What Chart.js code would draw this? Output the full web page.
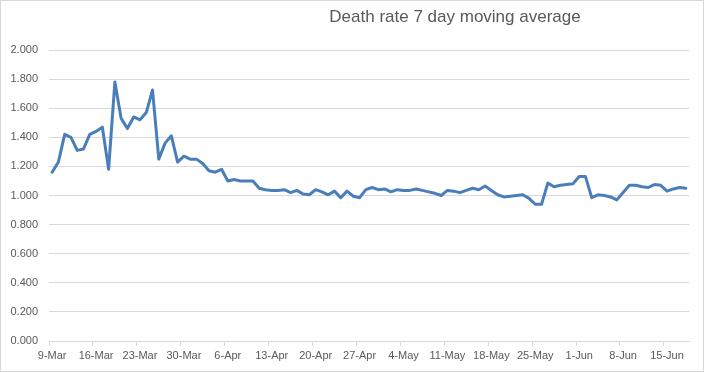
<!DOCTYPE html>
<html>
<head>
<meta charset="utf-8">
<script src="https://cdn.jsdelivr.net/npm/chart.js@4.4.0/dist/chart.umd.min.js"></script>
<style>
    html, body { margin: 0; padding: 0; background: #fff; }
    .chart-container { width: 704px; height: 372px; position: relative; }
</style>
</head>
<body>
<div class="chart-container">
    <canvas id="deathChart"></canvas>
</div>

<script>
    // Daily categories, 9-Mar to 18-Jun
    const months = ['Mar', 'Apr', 'May', 'Jun'];
    const monthDays = [31, 30, 31, 30];
    const days = [];
    let m = 0, d = 9;
    while (!(m === 3 && d > 18)) {
        days.push(d + '-' + months[m]);
        d++;
        if (d > monthDays[m]) { d = 1; m++; }
    }

    // Labels shown on the x axis (weekly)
    const tickLabels = ['9-Mar', '16-Mar', '23-Mar', '30-Mar', '6-Apr', '13-Apr', '20-Apr', '27-Apr',
        '4-May', '11-May', '18-May', '25-May', '1-Jun', '8-Jun', '15-Jun'];

    // 7 day moving average of the death rate
    const deathRate = [
        1.16, 1.23, 1.42, 1.40, 1.31, 1.32, 1.42, 1.44, 1.47, 1.18,
        1.78, 1.53, 1.46, 1.54, 1.52, 1.57, 1.725, 1.25, 1.36, 1.41,
        1.23, 1.27, 1.25, 1.25, 1.22, 1.17, 1.16, 1.18, 1.10, 1.11,
        1.10, 1.10, 1.10, 1.05, 1.04, 1.035, 1.035, 1.04, 1.02, 1.035,
        1.01, 1.005, 1.04, 1.025, 1.005, 1.03, 0.985, 1.03, 0.995, 0.985,
        1.04, 1.055, 1.04, 1.045, 1.025, 1.04, 1.035, 1.035, 1.045, 1.035,
        1.025, 1.015, 1.00, 1.035, 1.03, 1.02, 1.035, 1.05, 1.04, 1.065,
        1.035, 1.005, 0.99, 0.995, 1.00, 1.005, 0.98, 0.94, 0.94, 1.085,
        1.06, 1.07, 1.075, 1.08, 1.13, 1.13, 0.985, 1.005, 1.00, 0.99,
        0.97, 1.02, 1.07, 1.07, 1.06, 1.055, 1.075, 1.07, 1.03, 1.045,
        1.055, 1.05
    ];

    const titleText = 'Death rate 7 day moving average';

    // Title sits off-centre and the chart has a thin frame, as in the Excel original
    const framePlugin = {
        id: 'frame',
        afterDraw(chart) {
            const ctx = chart.ctx;
            ctx.save();
            ctx.strokeStyle = '#d9d9d9';
            ctx.lineWidth = 1;
            ctx.strokeRect(0.5, 0.5, chart.width - 1, chart.height - 1);
            ctx.fillStyle = '#595959';
            ctx.font = '17px "Liberation Sans", Arial, sans-serif';
            ctx.textAlign = 'center';
            ctx.textBaseline = 'alphabetic';
            ctx.fillText(titleText, 455, 22);
            ctx.restore();
        }
    };

    Chart.defaults.font.family = '"Liberation Sans", Arial, sans-serif';
    Chart.defaults.font.size = 11;
    Chart.defaults.color = '#595959';

    new Chart(document.getElementById('deathChart').getContext('2d'), {
        type: 'line',
        data: {
            labels: days,
            datasets: [{
                label: 'Death rate',
                data: deathRate,
                borderColor: '#4a7ebb',
                borderWidth: 3,
                borderJoinStyle: 'round',
                borderCapStyle: 'round',
                pointRadius: 0,
                tension: 0,
                fill: false
            }]
        },
        options: {
            responsive: true,
            maintainAspectRatio: false,
            animation: false,
            layout: { padding: { top: 50, right: 15, bottom: 0, left: 0 } },
            plugins: {
                legend: { display: false },
                title: { display: false },
                tooltip: { enabled: false }
            },
            scales: {
                x: {
                    offset: true,
                    grid: {
                        offset: true,
                        drawOnChartArea: false,
                        drawTicks: true,
                        tickLength: 5,
                        color: (c) => (c.index % 7 === 0 ? '#d9d9d9' : 'rgba(0,0,0,0)')
                    },
                    border: { color: '#d9d9d9' },
                    ticks: {
                        autoSkip: false,
                        maxRotation: 0,
                        padding: 3,
                        callback: function (value) {
                            const lab = this.getLabelForValue(value);
                            return tickLabels.includes(lab) ? lab : '';
                        }
                    },
                    afterFit: (scale) => { scale.height = 31; }
                },
                y: {
                    min: 0,
                    max: 2,
                    ticks: {
                        stepSize: 0.2,
                        padding: 11,
                        callback: (v) => v.toFixed(3)
                    },
                    grid: { color: '#d9d9d9', drawTicks: false },
                    border: { display: false },
                    afterFit: (scale) => { scale.width = 49; }
                }
            }
        },
        plugins: [framePlugin]
    });
</script>
</body>
</html>
